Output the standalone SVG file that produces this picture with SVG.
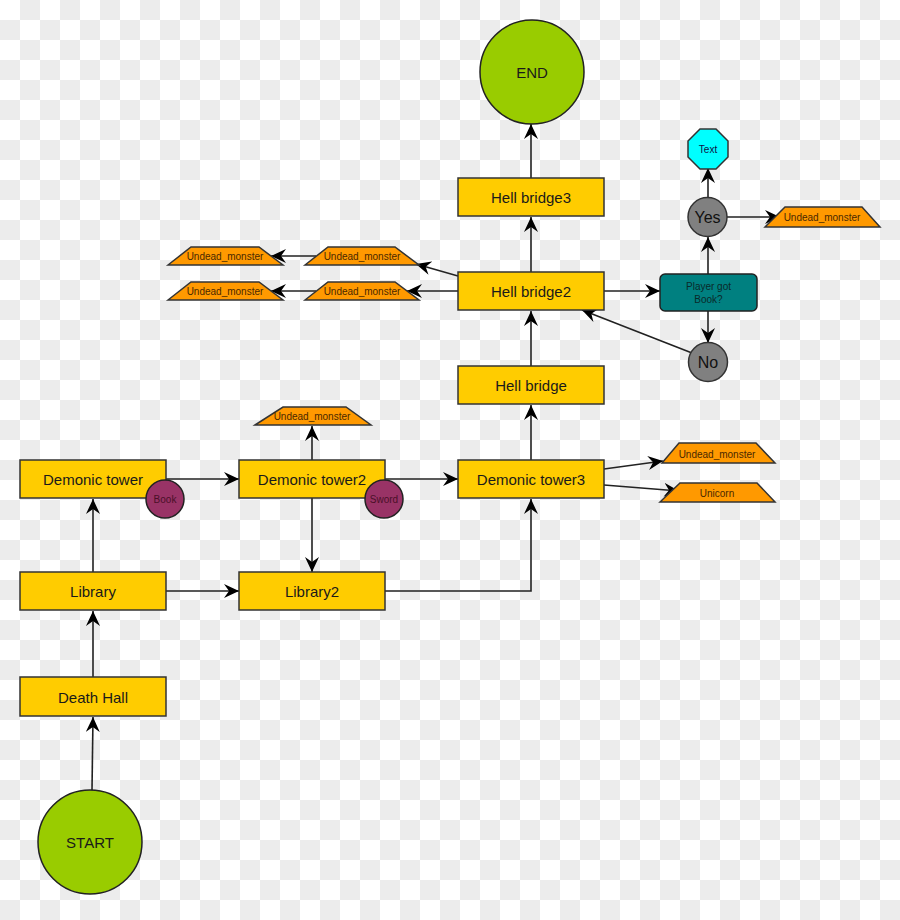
<svg xmlns="http://www.w3.org/2000/svg" width="900" height="920" viewBox="0 0 900 920">
<defs>
<pattern id="checker" width="40" height="40" patternUnits="userSpaceOnUse">
<rect width="40" height="40" fill="#ffffff"/>
<rect x="20" y="0" width="20" height="20" fill="#ececec"/>
<rect x="0" y="20" width="20" height="20" fill="#ececec"/>
</pattern>
<marker id="arr" markerUnits="userSpaceOnUse" markerWidth="16" markerHeight="14" refX="15" refY="7" orient="auto">
<path d="M0,0 L15,7 L0,14 L5,7 z" fill="#000"/>
</marker>
<style>
.box{fill:#ffcc00;stroke:#333;stroke-width:1.5}
.trap{fill:#ff9900;stroke:#333;stroke-width:1.5}
.big{fill:#99cc00;stroke:#222;stroke-width:1.5}
.item{fill:#993366;stroke:#222;stroke-width:1.5}
.grey{fill:#808080;stroke:#333;stroke-width:1.5}
.con{fill:none;stroke:#222;stroke-width:1.6;marker-end:url(#arr)}
text{font-family:"Liberation Sans",Arial,sans-serif;text-anchor:middle;dominant-baseline:central}
.lbl{font-size:15px;fill:#1a1a1a}
.sm{font-size:10px;fill:#4a2800}
.it{font-size:10px;fill:#4a1028}
</style>
</defs>
<rect width="900" height="920" fill="url(#checker)"/>
<g id="connectors">
<line class="con" x1="92" y1="790" x2="93" y2="717"/>
<line class="con" x1="93" y1="677" x2="93" y2="611"/>
<line class="con" x1="93" y1="572" x2="93" y2="499"/>
<line class="con" x1="166" y1="591" x2="239" y2="591"/>
<line class="con" x1="166" y1="479" x2="239" y2="479"/>
<line class="con" x1="312" y1="498" x2="312" y2="572"/>
<line class="con" x1="312" y1="460" x2="312" y2="426"/>
<line class="con" x1="385" y1="479" x2="458" y2="479"/>
<polyline class="con" points="385,591 531,591 531,499"/>
<line class="con" x1="531" y1="460" x2="531" y2="405"/>
<line class="con" x1="604" y1="469" x2="663" y2="461"/>
<line class="con" x1="604" y1="485" x2="679" y2="491"/>
<line class="con" x1="531" y1="366" x2="531" y2="311"/>
<line class="con" x1="531" y1="272" x2="531" y2="217"/>
<line class="con" x1="531" y1="178" x2="531" y2="124"/>
<line class="con" x1="604" y1="291" x2="660" y2="291"/>
<line class="con" x1="708" y1="274" x2="708" y2="237"/>
<line class="con" x1="708" y1="311" x2="708" y2="343"/>
<line class="con" x1="692" y1="353" x2="582" y2="310"/>
<line class="con" x1="708" y1="198" x2="708" y2="168"/>
<line class="con" x1="727" y1="217" x2="780" y2="217"/>
<line class="con" x1="458" y1="291" x2="407" y2="291"/>
<line class="con" x1="458" y1="276" x2="416" y2="264"/>
<line class="con" x1="316" y1="256" x2="271" y2="256"/>
<line class="con" x1="316" y1="291" x2="271" y2="291"/>
</g>
<g id="node-end"><circle class="big" cx="532" cy="72" r="52"/><text class="lbl" x="532" y="72">END</text></g>
<g id="node-start"><circle class="big" cx="90" cy="842" r="52"/><text class="lbl" x="90" y="842">START</text></g>
<g id="node-death-hall"><rect class="box" x="20" y="677" width="146" height="39"/><text class="lbl" x="93" y="697">Death Hall</text></g>
<g id="node-library"><rect class="box" x="20" y="572" width="146" height="38"/><text class="lbl" x="93" y="591">Library</text></g>
<g id="node-demonic-tower"><rect class="box" x="20" y="460" width="146" height="38"/><text class="lbl" x="93" y="479">Demonic tower</text></g>
<g id="node-library2"><rect class="box" x="239" y="572" width="146" height="38"/><text class="lbl" x="312" y="591">Library2</text></g>
<g id="node-demonic-tower2"><rect class="box" x="239" y="460" width="146" height="38"/><text class="lbl" x="312" y="479">Demonic tower2</text></g>
<g id="node-demonic-tower3"><rect class="box" x="458" y="460" width="146" height="38"/><text class="lbl" x="531" y="479">Demonic tower3</text></g>
<g id="node-hell-bridge"><rect class="box" x="458" y="366" width="146" height="38"/><text class="lbl" x="531" y="385">Hell bridge</text></g>
<g id="node-hell-bridge2"><rect class="box" x="458" y="272" width="146" height="38"/><text class="lbl" x="531" y="291">Hell bridge2</text></g>
<g id="node-hell-bridge3"><rect class="box" x="458" y="178" width="146" height="38"/><text class="lbl" x="531" y="197">Hell bridge3</text></g>
<g id="node-book"><circle class="item" cx="165" cy="499" r="19"/><text class="it" x="165" y="499">Book</text></g>
<g id="node-sword"><circle class="item" cx="384" cy="499" r="19"/><text class="it" x="384" y="499">Sword</text></g>
<g id="node-player-got-book"><rect x="660" y="274" width="97" height="37" rx="5" fill="#008080" stroke="#222" stroke-width="1.5"/><text x="708.5" y="286" font-size="10" fill="#0a2a2a">Player got</text><text x="708.5" y="299" font-size="10" fill="#0a2a2a">Book?</text></g>
<g id="node-yes"><circle class="grey" cx="707.5" cy="217" r="19.5"/><text x="707.5" y="217" font-size="16" fill="#111">Yes</text></g>
<g id="node-no"><circle class="grey" cx="708" cy="362" r="19.5"/><text x="708" y="362" font-size="16" fill="#111">No</text></g>
<g id="node-text"><polygon points="700,129 716,129 728,141 728,157 716,169 700,169 688,157 688,141" fill="#00ffff" stroke="#333" stroke-width="1.5"/><text x="708" y="149" font-size="10" fill="#114">Text</text></g>
<g id="node-undead-1"><polygon class="trap" points="168,265 191,247 259,247 283,265"/><text class="sm" x="225" y="256">Undead_monster</text></g>
<g id="node-undead-2"><polygon class="trap" points="305,265 328,247 395,247 419,265"/><text class="sm" x="362" y="256">Undead_monster</text></g>
<g id="node-undead-3"><polygon class="trap" points="168,300 191,282 259,282 283,300"/><text class="sm" x="225" y="291">Undead_monster</text></g>
<g id="node-undead-4"><polygon class="trap" points="305,300 328,282 395,282 419,300"/><text class="sm" x="362" y="291">Undead_monster</text></g>
<g id="node-undead-5"><polygon class="trap" points="255,425 283,407 346,407 371,425"/><text class="sm" x="312" y="416">Undead_monster</text></g>
<g id="node-undead-6"><polygon class="trap" points="662,463 679,443 756,443 775,463"/><text class="sm" x="717" y="454">Undead_monster</text></g>
<g id="node-unicorn"><polygon class="trap" points="660,502 680,483 757,483 775,502"/><text class="sm" x="717" y="493">Unicorn</text></g>
<g id="node-undead-7"><polygon class="trap" points="765,227 785,207 862,207 880,227"/><text class="sm" x="822" y="217">Undead_monster</text></g>
</svg>
